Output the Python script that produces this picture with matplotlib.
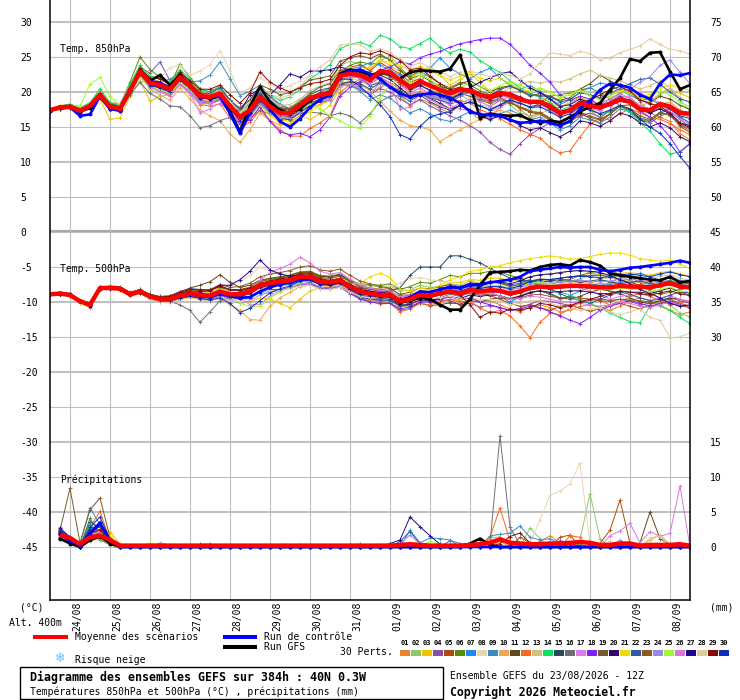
import numpy as np
import matplotlib
matplotlib.use("Agg")
from matplotlib import pyplot as plt
from matplotlib.lines import Line2D
from matplotlib.patches import Rectangle

plt.rcParams['font.family'] = ['DejaVu Sans Mono', 'DejaVu Sans']

W, H = 740, 700

# 6-hourly steps from 23/08 12Z (0..64 -> 384h)
steps = np.arange(65)
days = ["24/08", "25/08", "26/08", "27/08", "28/08", "29/08", "30/08", "31/08",
        "01/09", "02/09", "03/09", "04/09", "05/09", "06/09", "07/09", "08/09"]
day_steps = np.arange(2, 65, 4)

member_colors = ["#e8822e", "#8dc96a", "#f2c200", "#8b4fa8", "#b04a0a", "#5a8a0a",
                 "#1e88f5", "#e8d6b0", "#3a8cc0", "#e8a858", "#5e4a18", "#f86820",
                 "#d2c080", "#10e060", "#264a5e", "#6a7078", "#e078f5", "#8020f5",
                 "#7a5a2a", "#300a6a", "#f0d800", "#2a5ea0", "#8a5a1e", "#9a88e8",
                 "#a0f830", "#d878d8", "#200890", "#e2caa0", "#8a0808", "#0a30b8"]

# ---- Temp 850 hPa (degC) ----
t850_mean = [17.4, 17.8, 17.9, 17.3, 18.0, 19.6, 17.9, 17.6, 20.2, 22.9, 21.3, 21.0, 20.4,
             22.1, 20.9, 19.4, 19.3, 19.8, 18.0, 16.4, 17.4, 19.3, 17.9, 17.0, 17.0, 18.1,
             19.1, 19.6, 19.8, 22.3, 22.6, 22.4, 21.7, 23.0, 22.8, 21.7, 20.7, 21.5, 20.9,
             20.3, 19.8, 20.4, 20.2, 19.6, 19.3, 19.9, 19.6, 18.9, 18.6, 18.6, 18.0, 17.0,
             17.4, 18.4, 18.0, 17.8, 18.3, 18.9, 18.6, 17.5, 17.4, 18.3, 17.9, 17.0, 16.9]
t850_ctrl = [17.4, 17.7, 17.8, 16.6, 16.8, 19.4, 17.6, 17.3, 20.3, 22.7, 21.5, 21.3, 20.6,
             22.0, 20.8, 19.2, 19.2, 19.4, 16.9, 14.1, 17.0, 19.4, 17.5, 15.8, 15.0, 16.2,
             17.8, 18.9, 19.6, 22.4, 23.0, 23.2, 22.6, 21.9, 20.7, 19.8, 19.3, 19.6, 19.8,
             19.6, 19.2, 18.4, 17.2, 16.8, 16.7, 16.6, 16.0, 15.6, 15.7, 15.9, 15.6, 15.2,
             15.8, 17.6, 18.7, 20.3, 21.2, 21.0, 20.6, 19.6, 19.0, 21.2, 22.5, 22.4, 22.7]
t850_gfs = [17.3, 17.9, 18.0, 17.2, 17.7, 19.3, 17.6, 17.4, 20.4, 23.0, 21.6, 22.4, 21.0,
            22.4, 21.0, 19.6, 19.0, 19.4, 17.2, 14.3, 18.0, 20.7, 18.6, 17.4, 17.0, 17.6,
            18.8, 19.6, 20.0, 22.6, 23.2, 23.0, 22.4, 22.8, 22.6, 21.9, 22.8, 23.1, 23.0,
            22.9, 23.3, 25.3, 21.0, 16.3, 16.9, 16.7, 16.6, 16.7, 16.0, 15.6, 15.9, 15.7,
            16.4, 17.2, 17.9, 18.4, 20.3, 22.0, 24.7, 24.4, 25.6, 25.7, 22.9, 20.4, 21.0]
t850_perts = [
    "17.2 17.6 18.0 17.5 18.3 20.1 18.2 17.4 20.6 23.4 21.8 21.5 20.0 22.6 21.3 19.0 18.6 20.4 17.5 15.8 16.9 "
    "18.5 17.0 16.2 16.4 17.0 18.2 18.9 19.0 21.0 21.4 20.6 19.8 20.7 21.2 19.5 18.0 19.0 18.4 17.6 17.0 18.1 17.2 16.0 16.5 17.8 18.9 17.5 16.4 "
    "17.0 16.2 15.1 16.5 18.0 17.4 16.3 17.5 19.8 20.5 18.6 17.0 16.4 15.8 14.0 13.2",
    "17.5 17.9 18.2 17.0 18.4 20.5 18.4 17.8 20.9 23.8 22.0 21.9 21.4 23.0 21.5 20.1 20.0 20.9 18.8 17.2 18.6 "
    "20.4 18.4 17.4 17.7 18.9 20.2 20.8 21.3 23.8 24.4 24.0 23.2 24.5 25.1 23.6 22.0 22.8 21.5 20.2 19.0 19.6 18.8 18.1 17.9 18.8 18.2 17.0 16.6 "
    "16.9 15.8 15.3 16.8 18.6 18.9 18.1 18.0 19.5 19.1 17.9 18.6 19.8 20.5 18.9 17.3",
    "17.3 17.5 17.6 17.1 17.9 19.0 16.1 16.3 19.4 21.6 18.7 19.4 19.6 21.2 19.6 18.2 18.4 19.0 17.2 15.9 17.0 "
    "18.1 16.8 16.0 15.8 16.6 16.1 16.9 18.1 20.5 21.9 23.1 23.5 24.6 23.8 22.9 22.0 23.1 23.6 22.4 21.0 21.8 22.6 21.4 20.1 20.7 20.9 20.3 19.8 "
    "19.5 18.6 17.9 18.5 19.4 18.2 17.6 18.5 19.9 20.2 19.3 18.8 19.6 20.4 19.8 19.2",
    "17.6 18.0 17.9 17.6 18.3 19.9 18.1 18.0 21.0 23.5 22.7 24.3 21.6 22.9 20.4 19.5 20.1 20.6 18.5 17.8 18.9 "
    "20.6 19.3 18.1 17.6 18.6 19.4 19.0 19.2 21.2 20.9 20.4 19.6 20.5 20.0 19.0 18.2 18.9 18.0 17.3 16.6 16.0 15.2 14.3 12.8 11.8 11.1 12.6 13.9 "
    "14.8 15.6 15.1 15.9 16.6 17.0 16.4 17.3 18.0 17.1 16.0 15.6 16.5 17.2 16.1 15.0",
    "17.4 17.9 18.1 17.4 18.1 19.4 18.0 17.7 20.0 22.6 21.0 20.8 20.9 22.4 21.2 20.0 19.6 19.4 17.8 16.0 17.0 "
    "18.9 17.5 16.3 16.0 17.1 18.8 19.5 20.4 22.8 23.5 23.9 23.0 24.2 23.4 22.6 21.4 21.9 21.0 20.0 19.4 20.1 20.6 19.9 19.0 19.6 19.2 18.0 17.1 "
    "16.8 16.0 15.2 15.9 17.0 16.2 15.6 16.9 18.0 17.5 16.3 15.9 17.0 16.8 15.1 14.2",
    "17.5 17.9 18.1 17.7 18.4 20.2 18.3 18.1 21.4 25.0 23.2 22.1 21.0 24.0 22.0 20.5 20.0 20.7 18.4 16.9 18.0 "
    "19.8 18.6 17.6 17.4 18.2 19.0 19.9 20.6 22.9 23.8 24.3 24.0 25.2 24.6 23.2 22.3 23.0 22.1 21.2 20.6 21.4 21.0 20.2 19.6 19.1 18.4 17.9 17.4 "
    "18.5 19.4 19.6 19.9 20.3 20.6 19.9 19.0 18.1 17.2 16.0 15.8 16.9 17.6 16.4 15.6",
    "17.2 17.6 17.7 17.2 17.8 19.5 17.7 17.4 20.1 22.5 21.0 20.6 20.2 21.8 20.6 19.6 19.9 20.6 18.6 17.4 18.3 "
    "20.1 18.8 17.9 17.4 18.0 18.6 19.4 20.2 22.6 23.3 23.6 24.2 23.9 23.1 22.4 21.0 21.2 23.4 24.9 23.4 22.6 21.9 22.8 23.4 22.0 21.0 20.4 20.9 "
    "20.1 19.0 18.2 18.9 20.0 20.6 21.3 21.0 20.2 19.6 18.8 19.0 18.2 17.6 16.4 15.6",
    "17.6 18.1 18.2 17.8 18.5 20.2 18.6 18.4 21.0 23.1 22.3 22.0 23.5 23.8 22.4 23.0 23.9 25.9 23.0 19.8 20.6 "
    "22.1 21.0 20.5 20.9 21.6 22.4 21.5 20.8 23.1 23.5 22.8 21.9 23.0 22.1 21.5 20.2 20.5 19.8 19.0 18.6 19.5 20.1 19.3 18.6 19.1 18.9 18.0 17.6 "
    "17.9 17.1 16.3 16.9 17.8 17.3 16.9 17.5 18.2 18.0 17.2 16.8 17.9 18.4 17.5 16.9",
    "17.3 17.7 17.8 17.4 18.1 19.8 18.4 18.2 20.8 22.8 21.6 21.5 21.8 22.9 21.4 21.6 22.4 24.3 21.9 19.5 20.1 "
    "21.0 19.4 18.3 17.6 18.5 19.0 19.3 19.8 21.6 21.0 20.1 18.9 19.6 19.1 18.0 17.0 17.6 16.9 16.1 15.8 16.5 17.2 16.6 16.0 16.9 17.4 16.8 16.0 "
    "16.4 15.6 14.6 15.2 16.4 16.0 15.6 16.4 17.6 17.2 16.3 15.9 17.1 17.8 16.5 15.3",
    "17.4 17.7 17.8 17.2 17.9 19.5 17.6 17.3 19.8 22.3 20.4 19.6 18.8 20.6 19.0 17.4 16.6 15.9 14.0 12.8 14.6 "
    "17.0 15.9 15.3 15.5 16.7 17.6 18.3 18.7 20.7 21.4 21.0 20.2 18.7 17.3 16.0 15.2 15.0 14.6 12.9 13.8 14.6 15.4 16.1 16.8 17.4 17.0 16.4 16.1 "
    "16.8 17.6 17.9 18.4 19.2 18.8 18.1 18.4 19.0 18.6 17.8 17.4 18.2 18.6 17.4 16.9",
    "17.5 17.8 17.9 17.3 18.0 19.7 18.0 17.6 20.3 23.0 21.5 21.2 20.6 22.3 21.0 19.6 19.3 19.7 17.8 16.2 17.1 "
    "18.9 17.4 16.6 16.5 17.4 18.4 19.0 19.3 21.5 22.2 22.0 21.5 22.6 22.3 21.4 20.6 21.6 21.0 20.8 20.4 21.2 21.6 20.8 20.0 20.6 20.9 20.2 19.4 "
    "19.8 19.4 18.8 19.2 20.4 21.2 22.4 21.6 20.8 19.8 18.8 18.5 19.4 19.0 18.1 17.5",
    "17.3 17.7 17.9 17.5 18.1 19.4 17.8 17.5 20.0 22.4 20.8 20.2 19.5 21.4 20.1 18.2 18.0 18.3 16.3 14.8 15.7 "
    "17.4 15.9 14.6 13.7 13.7 14.8 15.6 16.6 19.9 21.1 21.8 21.2 22.0 21.3 20.5 19.6 20.1 19.4 18.9 18.2 18.8 18.4 17.5 16.9 16.2 15.4 14.6 14.0 "
    "13.4 12.1 11.3 11.6 13.6 15.4 16.3 16.0 16.9 17.6 17.0 16.4 16.1 15.5 14.6 13.9",
    "17.4 17.8 17.9 17.4 18.0 19.7 18.0 17.8 20.4 23.1 21.4 21.1 20.7 22.4 21.2 19.8 19.9 20.6 18.6 17.0 18.1 "
    "20.1 18.9 18.1 18.2 19.0 19.5 19.8 19.6 21.8 22.0 21.6 20.8 21.6 21.0 20.3 19.5 20.2 19.8 19.6 19.2 19.8 20.0 19.6 19.2 19.8 20.6 21.1 21.5 "
    "21.3 21.6 21.4 21.9 22.6 23.1 22.4 22.0 21.6 21.0 20.4 20.9 21.6 20.6 19.2 18.4",
    "17.6 18.0 18.3 17.7 18.5 20.4 18.5 18.2 21.1 23.8 22.3 22.0 21.4 23.2 21.8 20.3 20.1 20.6 18.8 17.3 18.4 "
    "20.5 19.6 18.8 19.3 20.4 21.9 22.8 23.9 26.2 26.8 27.1 26.6 28.1 27.6 26.5 26.2 26.9 27.7 26.4 25.6 26.1 25.7 24.5 23.6 22.8 21.6 20.6 19.8 "
    "19.2 18.5 17.4 17.9 18.6 17.6 16.9 17.2 17.9 17.1 15.6 14.4 12.6 11.1 11.5 12.7",
    "17.3 17.6 17.7 17.1 17.8 19.3 17.7 17.5 20.1 22.7 21.0 20.7 20.1 21.6 20.4 18.8 18.5 19.0 17.1 15.6 16.6 "
    "18.6 17.2 16.2 16.1 17.0 18.1 18.6 18.8 21.1 21.5 21.2 20.4 21.3 20.8 20.2 19.1 19.6 18.6 17.9 17.4 18.1 18.6 18.0 17.4 18.1 18.8 18.4 17.9 "
    "18.2 17.6 16.8 17.4 18.6 18.0 17.5 18.2 19.1 18.6 17.4 17.1 18.1 17.6 16.6 16.2",
    "17.3 17.7 17.8 17.2 17.9 19.3 17.6 17.4 19.6 21.4 19.8 19.0 18.0 17.9 16.6 14.9 15.2 15.9 16.4 15.5 16.2 "
    "17.4 16.8 16.9 16.8 17.0 17.1 17.0 16.6 17.0 16.6 15.6 16.9 18.6 19.4 19.6 19.1 19.8 19.5 19.2 18.8 19.6 20.2 19.8 19.3 19.7 19.5 18.9 18.4 "
    "18.6 18.0 17.1 17.5 18.6 18.2 17.9 18.5 19.2 18.9 17.9 17.6 18.5 18.1 17.3 17.0",
    "17.4 17.8 18.0 17.4 18.1 19.8 18.1 17.9 20.5 22.9 21.1 20.6 19.8 21.5 19.8 17.0 17.6 18.4 17.2 16.0 17.3 "
    "19.2 17.6 16.9 16.9 17.8 19.0 19.4 19.6 21.8 22.2 22.0 21.5 23.2 22.6 21.0 19.8 20.6 19.7 18.9 18.1 17.6 17.3 16.6 17.2 17.8 18.6 19.4 18.7 "
    "18.3 17.4 16.6 17.2 18.2 17.6 17.3 18.2 19.1 19.5 19.8 19.2 18.4 17.2 16.2 15.5",
    "17.5 17.9 18.1 17.6 18.2 19.9 18.0 17.6 20.1 22.6 21.0 20.6 19.9 21.6 20.2 18.6 18.4 18.8 17.0 15.5 16.0 "
    "17.9 15.8 14.3 13.9 14.1 13.6 14.6 16.4 19.4 20.7 21.5 21.9 23.1 23.6 24.3 24.0 24.9 25.4 25.8 26.4 26.9 27.2 27.5 27.7 27.7 26.8 25.4 23.8 "
    "22.7 21.4 19.6 18.8 19.4 19.0 18.1 18.6 19.4 18.6 17.3 16.4 15.2 13.6 11.4 12.6",
    "17.4 17.8 17.9 17.3 18.0 19.6 17.9 17.6 20.2 22.8 21.2 20.9 20.3 22.0 20.8 19.2 19.4 20.3 18.9 17.6 18.9 "
    "21.0 20.4 19.6 19.9 20.8 21.7 22.0 22.3 24.4 24.9 25.2 24.8 25.4 24.6 23.1 21.9 22.4 21.6 20.8 20.0 20.4 19.8 19.0 18.6 19.1 18.6 17.8 17.2 "
    "17.1 16.3 15.4 16.0 17.1 16.6 16.1 16.9 18.0 17.6 16.6 16.1 17.1 16.6 15.4 14.8",
    "17.5 17.8 17.8 17.2 17.9 19.6 17.9 17.7 20.4 23.3 21.6 21.3 20.6 22.4 21.1 19.7 19.6 20.0 18.2 16.6 17.5 "
    "19.4 18.1 17.1 17.2 18.2 19.3 19.8 19.9 22.0 22.6 22.5 21.6 22.4 21.8 20.6 19.4 19.9 19.1 18.4 17.6 18.0 17.5 16.6 16.1 16.6 16.1 15.2 14.6 "
    "14.9 14.2 13.6 14.4 15.9 15.6 15.1 15.9 17.0 16.6 15.6 15.0 15.6 14.9 13.6 12.9",
    "17.3 17.7 17.8 17.3 18.0 19.4 17.6 17.3 19.9 22.5 20.6 20.3 19.8 21.4 20.2 18.7 18.5 19.1 17.4 15.9 16.5 "
    "18.2 16.6 15.6 15.4 16.3 17.2 18.1 18.8 21.4 22.6 23.1 23.6 24.4 24.3 23.8 23.1 23.7 23.0 22.4 21.7 22.3 22.8 22.0 21.6 22.0 21.2 20.4 20.1 "
    "20.5 20.0 19.2 19.7 20.3 19.6 19.1 19.5 20.3 20.0 19.3 19.7 20.6 21.0 20.6 20.3",
    "17.4 17.8 17.9 17.3 18.0 19.6 17.8 17.5 20.0 22.5 21.0 20.8 20.5 22.0 21.0 19.8 19.8 20.6 18.9 17.3 18.3 "
    "19.9 18.4 17.6 17.5 18.5 19.6 20.3 20.6 22.6 22.6 22.0 20.9 21.4 20.8 19.5 18.7 19.6 19.2 18.8 18.4 19.4 20.0 19.7 19.5 20.4 20.8 20.3 19.6 "
    "19.5 19.3 18.6 18.9 19.9 19.6 19.2 19.8 20.5 21.2 21.8 22.0 21.1 20.0 19.0 18.6",
    "17.4 17.8 17.9 17.3 18.0 19.8 18.2 17.9 20.5 23.2 21.6 21.3 20.8 22.5 21.3 19.8 19.6 20.1 18.3 16.7 17.7 "
    "19.6 18.4 17.6 17.7 18.6 19.8 20.7 21.2 23.1 23.3 22.9 22.0 22.8 22.2 21.1 20.2 20.9 20.3 19.7 19.1 19.8 19.4 18.8 18.4 18.9 18.5 17.7 17.2 "
    "17.0 16.2 15.2 15.7 16.8 16.4 16.0 16.8 18.0 18.2 17.4 17.0 17.7 16.8 15.3 14.5",
    "17.4 17.7 17.8 17.2 17.9 19.5 17.7 17.4 19.8 22.2 20.6 20.2 19.7 21.2 20.0 18.6 18.6 19.1 17.2 15.6 16.5 "
    "18.3 17.0 16.3 16.3 17.2 18.3 18.7 18.8 20.9 21.0 20.6 19.8 21.2 20.6 19.9 19.2 19.8 19.5 19.1 18.6 19.4 19.9 19.2 18.7 19.2 19.5 19.0 18.6 "
    "18.8 18.0 17.2 17.6 18.6 18.5 18.4 19.0 19.9 20.4 21.4 22.2 23.8 24.6 22.8 21.2",
    "17.5 17.9 18.2 18.0 21.1 22.1 19.4 18.0 20.0 22.1 20.6 20.3 19.9 21.4 20.4 19.2 19.4 20.1 18.6 17.1 17.8 "
    "19.0 17.5 16.8 16.9 17.6 18.2 17.6 16.6 15.9 15.1 14.8 16.6 19.2 21.1 21.8 21.4 22.4 21.8 20.6 19.6 20.6 21.3 20.8 20.2 20.9 21.5 21.0 20.4 "
    "20.6 20.0 19.2 19.6 20.2 19.5 18.9 19.4 20.1 19.8 19.0 19.4 20.2 19.6 18.5 17.9",
    "17.4 17.8 17.9 17.4 18.1 19.9 18.0 17.7 20.4 22.6 20.7 20.0 19.4 21.0 19.8 18.4 18.3 18.8 17.0 15.8 17.0 "
    "18.8 17.4 16.6 16.8 17.8 18.9 19.4 19.6 21.6 22.2 22.0 21.2 22.2 21.3 17.6 17.8 19.8 18.9 18.1 17.6 18.4 19.0 18.6 18.0 18.8 19.4 18.9 18.3 "
    "18.5 17.9 17.1 17.6 18.8 18.6 18.2 18.9 19.7 19.2 18.1 17.6 18.3 17.8 16.9 16.4",
    "17.3 17.7 17.8 17.3 17.9 19.5 17.8 17.5 20.1 22.7 21.1 20.8 20.3 21.9 20.7 19.3 19.2 19.6 17.8 17.2 19.6 "
    "20.4 19.6 21.0 22.6 22.1 23.0 23.0 23.2 23.6 23.1 22.6 22.0 23.0 22.6 21.6 20.4 21.0 20.2 19.4 18.9 19.7 20.6 21.4 22.0 22.6 22.9 21.7 20.6 "
    "19.9 19.0 17.9 18.2 19.0 18.4 17.9 18.4 19.1 18.6 17.6 17.0 17.6 16.9 15.6 15.2",
    "17.6 18.0 18.1 17.5 18.2 19.8 18.1 17.9 20.6 23.0 21.4 21.2 20.8 22.3 21.1 19.6 19.6 20.2 18.6 17.2 18.4 "
    "20.5 19.7 19.2 19.6 20.8 22.4 23.6 24.6 26.7 26.9 26.8 25.8 26.2 25.7 24.7 23.6 24.2 23.5 22.9 22.2 22.8 23.0 22.6 22.2 22.7 22.4 21.8 22.6 "
    "24.2 25.6 25.4 25.2 25.8 25.5 24.6 24.9 25.6 26.1 26.6 27.6 26.8 26.1 25.9 25.4",
    "17.5 17.9 18.0 17.5 18.1 19.9 18.2 17.9 20.6 23.4 22.0 21.9 21.0 22.8 21.6 20.4 20.4 21.0 19.6 18.4 19.9 "
    "22.9 21.4 20.6 20.0 20.6 21.2 21.4 21.8 23.8 25.0 25.6 25.4 25.9 25.3 24.5 23.2 23.4 22.3 21.2 20.3 20.7 20.1 19.4 18.9 19.5 19.9 19.3 18.6 "
    "18.4 17.6 16.7 17.3 18.6 18.8 19.6 20.3 20.8 20.1 18.9 18.3 18.0 17.0 15.6 14.9",
    "17.3 17.6 17.7 17.1 17.8 19.4 17.6 17.3 19.9 22.6 20.9 20.6 20.0 21.7 20.6 19.1 19.0 19.6 17.6 15.9 17.0 "
    "18.8 17.6 16.8 16.7 17.6 18.7 19.4 19.6 21.9 21.8 20.8 19.5 18.2 16.5 13.9 13.3 15.1 16.4 16.9 17.2 18.1 18.6 18.0 17.5 18.2 18.9 18.4 17.8 "
    "17.9 17.2 16.4 16.9 17.9 17.4 16.9 17.4 18.1 17.6 16.1 15.0 14.1 12.6 10.8 9.1",
]

# ---- Temp 500 hPa (degC) ----
t500_mean = [-8.9, -8.8, -9.0, -9.9, -10.4, -8.0, -8.0, -8.1, -8.9, -8.5, -9.2, -9.6, -9.6,
             -9.1, -8.8, -9.0, -9.1, -8.5, -8.9, -8.9, -8.5, -7.6, -7.3, -7.1, -6.9, -6.4,
             -6.4, -7.1, -7.2, -6.9, -7.8, -8.5, -8.8, -9.0, -9.0, -9.9, -9.6, -9.0, -9.1,
             -8.8, -8.5, -8.8, -8.3, -8.5, -8.3, -8.4, -8.8, -8.5, -8.0, -7.8, -7.9, -7.8,
             -7.7, -7.7, -7.8, -7.9, -7.9, -7.7, -7.8, -7.8, -7.9, -7.6, -7.3, -7.8, -7.9]
t500_ctrl = [-8.9, -8.7, -8.9, -9.9, -10.5, -8.1, -8.0, -8.1, -8.9, -8.6, -9.2, -9.6, -9.6,
             -9.1, -8.8, -9.1, -9.3, -8.8, -9.2, -9.4, -9.3, -8.5, -7.9, -7.5, -7.2, -6.8,
             -6.7, -7.3, -7.3, -7.0, -7.6, -8.4, -8.6, -8.8, -9.0, -9.8, -9.4, -8.5, -8.6,
             -8.2, -7.9, -8.0, -7.6, -7.6, -7.2, -7.0, -6.8, -6.4, -5.6, -5.4, -5.2, -5.0,
             -5.1, -5.0, -5.0, -5.4, -5.6, -5.4, -5.1, -5.0, -4.8, -4.6, -4.4, -4.1, -4.4]
t500_gfs = [-8.9, -8.8, -9.0, -9.8, -10.3, -8.0, -8.0, -8.1, -8.9, -8.5, -9.2, -9.6, -9.6,
            -9.2, -8.9, -9.1, -9.2, -8.6, -9.0, -9.0, -8.6, -7.7, -7.4, -7.2, -7.0, -6.6,
            -6.6, -7.3, -7.4, -7.1, -7.9, -8.6, -8.9, -9.1, -9.2, -10.1, -9.8, -9.4, -9.6,
            -10.4, -11.1, -11.1, -9.6, -7.6, -5.8, -5.7, -5.6, -5.4, -5.5, -5.0, -4.7, -4.6,
            -4.8, -4.0, -4.3, -4.8, -5.9, -6.2, -6.4, -6.6, -6.8, -6.9, -6.4, -7.2, -7.0]
t500_perts = [
    "-8.8 -8.7 -9.1 -10.1 -10.8 -8.2 -7.9 -8.3 -9.2 -8.8 -9.6 -10.0 -9.9 -9.3 -9.0 -9.4 -9.6 -9.1 -9.4 -9.2 -8.7 "
    "-7.9 -7.6 -7.3 -7.0 -6.6 -6.8 -7.6 -7.8 -7.7 -8.6 -9.5 -9.9 -10.3 -10.2 -10.8 -10.4 -9.8 -10.1 -10.0 -9.6 -9.8 -9.4 -9.9 -9.8 -10.4 -11.0 -11.4 -10.8 "
    "-10.4 -10.8 -11.4 -11.2 -10.6 -10.4 -10.8 -11.2 -10.6 -9.8 -9.4 -9.8 -10.6 -11.2 -11.8 -11.4",
    "-8.9 -8.8 -8.9 -9.7 -10.2 -7.8 -7.9 -8.0 -8.7 -8.2 -9.0 -9.4 -9.3 -8.7 -8.3 -8.5 -8.7 -8.0 -8.6 -8.6 -8.1 "
    "-7.0 -6.6 -6.4 -6.1 -5.7 -5.8 -6.6 -6.7 -6.3 -7.1 -7.6 -7.7 -7.8 -7.7 -8.4 -8.3 -7.6 -7.9 -7.8 -7.4 -7.6 -7.0 -7.3 -7.0 -7.3 -7.8 -7.5 -7.0 "
    "-6.8 -7.0 -7.1 -7.0 -6.7 -6.2 -6.0 -6.4 -6.3 -6.9 -7.8 -8.4 -9.6 -10.4 -11.6 -12.2",
    "-9.0 -8.9 -9.1 -10.0 -10.5 -8.2 -8.2 -8.3 -9.0 -8.6 -9.3 -9.8 -9.9 -9.6 -9.4 -9.5 -9.6 -9.3 -9.8 -10.1 -10.0 "
    "-9.4 -9.6 -10.2 -10.8 -9.6 -8.4 -8.0 -7.8 -7.4 -8.0 -8.6 -8.9 -9.1 -8.9 -9.7 -9.3 -8.4 -8.2 -7.8 -7.3 -7.2 -6.8 -6.9 -6.6 -6.6 -7.0 -6.8 -6.4 "
    "-6.1 -6.0 -5.8 -5.6 -5.5 -5.8 -6.1 -6.2 -5.9 -5.8 -6.0 -6.2 -5.8 -5.6 -6.0 -6.3",
    "-8.9 -8.8 -9.0 -9.9 -10.4 -8.1 -8.0 -8.1 -8.9 -8.5 -9.2 -9.6 -9.7 -9.3 -9.1 -9.3 -9.5 -9.0 -9.3 -9.3 -8.8 "
    "-8.0 -7.6 -7.3 -7.1 -6.6 -6.5 -7.0 -7.0 -6.6 -7.4 -8.0 -8.2 -8.4 -8.5 -9.6 -9.5 -9.2 -9.6 -9.7 -9.8 -10.4 -10.2 -10.7 -10.5 -10.8 -11.2 -10.9 -10.3 "
    "-9.8 -9.9 -10.2 -10.5 -10.2 -9.7 -9.5 -9.8 -9.6 -9.9 -10.4 -10.2 -9.8 -9.4 -9.8 -10.2",
    "-8.9 -8.7 -8.9 -9.8 -10.2 -7.9 -7.8 -7.9 -8.7 -8.3 -9.0 -9.5 -9.4 -8.9 -8.5 -8.6 -8.6 -7.9 -8.3 -8.2 -7.9 "
    "-7.0 -6.8 -6.6 -6.3 -5.9 -5.8 -6.4 -6.4 -6.1 -7.0 -7.8 -8.2 -8.5 -8.6 -9.4 -9.0 -8.4 -8.6 -8.4 -8.1 -8.6 -8.4 -8.9 -9.1 -9.6 -10.2 -10.6 -10.4 "
    "-10.8 -11.2 -10.6 -10.4 -10.9 -11.3 -11.0 -10.4 -10.2 -10.6 -11.0 -10.4 -9.8 -9.6 -10.2 -10.6",
    "-8.8 -8.7 -8.9 -9.8 -10.3 -7.9 -7.8 -8.0 -8.8 -8.3 -9.0 -9.3 -9.3 -8.8 -8.4 -8.6 -8.5 -7.9 -8.2 -8.3 -8.0 "
    "-7.1 -6.8 -6.5 -6.2 -5.7 -5.6 -6.2 -6.3 -6.0 -6.9 -7.4 -7.5 -7.6 -7.4 -8.2 -7.8 -7.2 -7.3 -6.8 -6.2 -6.4 -5.9 -5.9 -5.6 -5.7 -6.2 -6.6 -7.2 "
    "-7.8 -7.6 -6.9 -6.8 -6.2 -5.8 -5.5 -5.6 -6.0 -6.4 -7.2 -8.4 -8.9 -8.6 -8.2 -8.0",
    "-8.9 -8.8 -9.0 -9.9 -10.3 -8.0 -8.0 -8.1 -8.9 -8.6 -9.4 -9.8 -9.8 -9.4 -9.0 -9.2 -9.4 -8.8 -9.4 -9.6 -9.4 "
    "-8.6 -8.5 -8.3 -8.0 -7.2 -6.9 -7.4 -7.4 -7.1 -7.9 -8.4 -8.5 -8.6 -8.4 -9.3 -9.1 -8.5 -8.6 -8.4 -8.0 -8.4 -8.1 -8.4 -8.6 -9.2 -10.0 -9.3 -8.6 "
    "-8.4 -8.9 -9.6 -9.1 -8.4 -8.0 -7.6 -7.2 -6.6 -6.2 -5.9 -6.4 -6.9 -7.3 -7.8 -8.2",
    "-8.9 -8.8 -9.0 -9.9 -10.4 -8.2 -8.2 -8.2 -8.9 -8.4 -9.1 -9.4 -9.4 -8.9 -8.5 -8.6 -8.6 -7.8 -7.6 -7.0 -6.2 "
    "-5.0 -5.6 -6.0 -6.2 -6.0 -6.1 -6.8 -7.0 -6.7 -7.4 -7.8 -7.9 -8.1 -7.7 -7.3 -6.6 -6.5 -6.8 -7.0 -7.2 -7.9 -7.8 -8.1 -7.6 -7.6 -8.1 -7.8 -7.2 "
    "-7.0 -7.1 -7.2 -7.3 -7.5 -7.6 -8.0 -8.2 -7.8 -7.5 -7.7 -8.0 -7.8 -7.4 -7.8 -8.1",
    "-8.9 -8.7 -8.9 -9.8 -10.3 -7.9 -7.9 -8.0 -8.8 -8.4 -9.1 -9.5 -9.5 -9.0 -8.7 -8.9 -9.0 -8.4 -8.8 -8.8 -8.4 "
    "-7.6 -7.3 -7.2 -7.0 -6.6 -6.7 -7.4 -7.6 -7.4 -8.2 -9.2 -9.6 -9.9 -10.1 -11.2 -10.9 -10.0 -9.8 -9.4 -8.9 -9.2 -8.7 -8.9 -8.6 -8.6 -9.0 -8.7 -8.2 "
    "-7.9 -8.0 -7.8 -7.6 -7.5 -7.4 -7.6 -7.5 -7.2 -7.0 -7.2 -7.5 -7.1 -6.9 -7.4 -7.7",
    "-8.9 -8.8 -9.0 -9.9 -10.4 -8.0 -8.1 -8.2 -9.0 -8.6 -9.3 -9.8 -9.9 -9.5 -9.2 -9.5 -9.8 -9.5 -10.4 -11.2 -12.5 "
    "-12.6 -10.6 -9.4 -8.6 -7.8 -7.6 -7.9 -7.8 -7.4 -8.2 -9.0 -9.4 -9.7 -9.8 -10.6 -10.2 -9.4 -9.4 -9.0 -8.6 -8.8 -8.3 -8.6 -8.4 -8.4 -8.8 -8.4 -7.8 "
    "-7.5 -7.6 -7.4 -7.2 -7.1 -7.2 -7.4 -7.3 -7.0 -7.0 -7.2 -7.3 -6.9 -6.6 -7.1 -7.4",
    "-8.8 -8.7 -8.9 -9.8 -10.3 -7.9 -7.7 -7.8 -8.6 -8.2 -8.9 -9.3 -9.2 -8.6 -8.0 -7.6 -7.1 -6.1 -7.2 -7.9 -7.6 "
    "-6.9 -6.6 -6.4 -6.2 -5.8 -5.7 -6.3 -6.4 -6.1 -7.0 -7.9 -8.5 -8.9 -9.2 -10.4 -10.6 -10.2 -10.5 -10.4 -10.1 -10.3 -9.8 -10.0 -9.6 -9.4 -9.6 -9.1 -8.6 "
    "-8.4 -8.8 -9.4 -9.6 -9.2 -8.6 -8.2 -8.4 -8.8 -9.4 -10.0 -10.2 -9.8 -9.4 -9.6 -10.0",
    "-8.9 -8.8 -9.0 -9.9 -10.4 -8.1 -8.1 -8.2 -9.0 -8.6 -9.2 -9.5 -9.4 -8.9 -8.6 -8.8 -9.0 -8.5 -8.9 -8.9 -8.6 "
    "-7.9 -7.6 -7.4 -7.2 -6.8 -6.8 -7.4 -7.6 -7.4 -8.4 -9.4 -9.8 -10.0 -10.2 -11.4 -11.0 -10.2 -10.4 -10.0 -9.6 -10.0 -9.8 -10.9 -11.5 -11.2 -12.0 -13.4 -15.1 "
    "-12.9 -11.6 -11.8 -10.9 -10.0 -9.6 -9.8 -10.4 -10.0 -9.2 -8.8 -9.2 -9.8 -10.4 -10.2 -9.8",
    "-8.9 -8.8 -9.0 -9.9 -10.4 -8.0 -8.0 -8.1 -8.9 -8.5 -9.1 -9.5 -9.5 -9.0 -8.7 -8.9 -9.0 -8.4 -8.8 -8.8 -8.4 "
    "-7.5 -7.2 -7.0 -6.8 -6.3 -6.3 -7.0 -7.1 -6.8 -7.6 -8.3 -8.6 -8.7 -8.6 -9.4 -9.1 -8.5 -8.6 -8.4 -8.0 -8.2 -7.7 -7.9 -7.6 -7.7 -8.1 -7.7 -7.1 "
    "-6.8 -6.8 -6.6 -6.4 -6.3 -6.4 -6.6 -6.6 -6.3 -6.2 -6.5 -6.7 -6.3 -6.1 -6.6 -6.9",
    "-8.9 -8.8 -9.0 -9.9 -10.3 -8.0 -8.0 -8.1 -8.9 -8.5 -9.2 -9.6 -9.6 -9.1 -8.8 -9.0 -9.1 -8.5 -8.9 -8.9 -8.5 "
    "-7.7 -7.4 -7.2 -7.0 -6.5 -6.5 -7.2 -7.3 -7.0 -7.9 -8.6 -8.9 -9.1 -9.1 -10.0 -9.7 -9.1 -9.2 -8.9 -8.6 -8.9 -8.4 -8.6 -8.4 -8.5 -8.9 -8.6 -8.1 "
    "-7.9 -8.2 -8.6 -9.0 -9.6 -10.2 -10.8 -11.6 -12.2 -12.8 -13.0 -10.6 -10.4 -11.2 -12.2 -13.1",
    "-8.9 -8.8 -9.0 -9.9 -10.4 -8.0 -8.0 -8.1 -8.9 -8.3 -8.9 -9.2 -9.1 -8.5 -8.1 -8.2 -8.3 -7.8 -8.3 -8.4 -8.1 "
    "-7.6 -7.3 -7.1 -6.9 -6.4 -6.4 -7.1 -7.2 -6.9 -7.8 -8.5 -8.6 -8.8 -8.4 -8.0 -6.2 -5.0 -5.0 -5.0 -3.4 -3.4 -3.9 -4.4 -5.2 -5.9 -6.6 -6.9 -7.0 "
    "-7.2 -7.0 -6.8 -6.9 -7.2 -7.0 -6.8 -7.1 -7.4 -7.2 -7.0 -7.3 -7.7 -7.5 -7.2 -7.4",
    "-8.9 -8.8 -9.0 -9.9 -10.4 -8.1 -8.1 -8.2 -9.0 -8.6 -9.3 -9.8 -9.9 -10.4 -11.2 -12.9 -11.4 -9.8 -9.4 -9.2 -8.8 "
    "-8.0 -7.7 -7.4 -7.1 -6.6 -6.6 -7.3 -7.4 -7.2 -8.0 -8.7 -9.0 -9.2 -9.2 -10.1 -9.8 -9.2 -9.3 -9.0 -8.7 -9.0 -8.5 -8.7 -8.5 -8.6 -9.0 -8.7 -8.2 "
    "-8.0 -8.1 -8.0 -7.9 -7.9 -8.0 -8.1 -8.1 -7.9 -8.0 -8.0 -8.1 -7.8 -7.5 -8.0 -8.1",
    "-8.9 -8.8 -9.0 -9.9 -10.4 -8.0 -8.0 -8.1 -8.9 -8.5 -9.2 -9.6 -9.6 -9.1 -8.8 -9.0 -9.1 -8.5 -8.9 -9.4 -10.4 "
    "-10.3 -9.2 -8.4 -7.8 -7.0 -6.8 -7.3 -7.3 -7.0 -7.9 -8.6 -8.9 -9.0 -8.9 -9.8 -9.4 -8.7 -8.7 -8.4 -8.0 -8.2 -7.8 -8.0 -7.8 -7.9 -8.3 -8.0 -7.5 "
    "-7.3 -7.5 -7.6 -7.7 -8.0 -8.4 -9.0 -9.6 -9.2 -9.0 -9.4 -9.8 -9.4 -9.1 -9.6 -9.9",
    "-8.9 -8.8 -9.0 -9.9 -10.4 -8.0 -8.0 -8.1 -8.9 -8.5 -9.3 -9.7 -9.7 -9.3 -9.1 -9.4 -9.6 -9.1 -9.4 -9.5 -9.2 "
    "-8.4 -8.2 -8.2 -8.0 -7.5 -7.4 -8.0 -8.1 -7.9 -8.8 -9.6 -10.0 -10.2 -10.2 -11.0 -10.7 -10.0 -10.0 -9.6 -9.3 -9.6 -9.4 -10.0 -10.4 -10.8 -11.2 -11.0 -10.6 "
    "-10.8 -11.4 -12.0 -12.6 -13.1 -12.2 -11.2 -10.6 -10.2 -9.8 -10.2 -10.6 -10.2 -9.8 -10.4 -10.8",
    "-8.9 -8.8 -9.0 -9.8 -10.3 -7.9 -7.9 -8.0 -8.8 -8.4 -9.1 -9.4 -9.4 -8.9 -8.6 -8.8 -8.9 -8.3 -8.7 -8.7 -8.2 "
    "-7.3 -7.0 -6.7 -6.5 -6.0 -5.9 -6.5 -6.6 -6.3 -7.1 -7.7 -8.0 -8.2 -8.1 -8.9 -8.6 -8.0 -8.1 -7.8 -7.5 -7.8 -7.3 -7.4 -7.2 -7.3 -7.8 -7.5 -7.0 "
    "-6.7 -6.8 -6.6 -6.4 -6.2 -6.2 -6.2 -6.4 -6.8 -7.2 -7.6 -8.0 -7.4 -7.0 -7.5 -7.9",
    "-8.9 -8.8 -9.0 -9.9 -10.4 -8.0 -8.0 -8.1 -8.9 -8.7 -9.4 -9.9 -9.9 -9.5 -9.2 -9.3 -9.3 -8.7 -9.1 -9.0 -8.6 "
    "-7.6 -7.3 -7.1 -6.9 -6.4 -6.4 -7.1 -7.3 -7.2 -8.2 -9.0 -9.3 -9.5 -9.6 -10.5 -10.3 -9.7 -9.8 -9.5 -9.2 -9.5 -9.0 -9.2 -9.0 -9.1 -9.5 -9.2 -8.7 "
    "-8.4 -8.6 -8.5 -8.4 -8.4 -8.6 -8.8 -8.8 -8.5 -8.6 -8.6 -8.8 -8.4 -8.0 -8.5 -8.7",
    "-8.9 -8.8 -9.0 -9.9 -10.4 -8.0 -8.0 -8.1 -8.9 -8.4 -9.0 -9.3 -9.2 -8.6 -8.3 -8.5 -8.6 -8.1 -8.6 -8.7 -8.4 "
    "-7.6 -7.3 -7.1 -6.9 -6.4 -6.4 -7.1 -7.2 -6.9 -7.4 -7.4 -6.4 -5.9 -6.5 -8.2 -8.4 -8.0 -8.2 -7.6 -6.8 -6.4 -5.6 -5.4 -5.0 -4.8 -4.4 -4.1 -3.8 "
    "-3.6 -3.4 -3.6 -3.9 -3.8 -3.5 -3.2 -3.0 -3.0 -3.3 -3.8 -4.0 -4.2 -4.0 -4.6 -5.2",
    "-8.9 -8.8 -9.0 -9.9 -10.4 -8.0 -8.0 -8.1 -8.9 -8.6 -9.3 -9.7 -9.8 -9.4 -9.1 -9.4 -9.5 -8.8 -9.1 -9.0 -8.4 "
    "-7.9 -7.6 -7.6 -7.5 -7.0 -7.2 -7.9 -8.0 -7.8 -8.6 -9.4 -9.6 -9.7 -9.8 -10.6 -10.1 -9.2 -9.0 -8.4 -7.9 -8.0 -7.4 -7.5 -7.2 -7.2 -7.6 -7.3 -6.8 "
    "-7.8 -8.2 -8.8 -9.4 -9.8 -10.2 -9.6 -9.0 -8.6 -8.9 -9.4 -9.8 -9.6 -9.0 -8.6 -9.0",
    "-8.9 -8.8 -9.0 -9.9 -10.4 -8.0 -8.0 -8.1 -8.9 -8.4 -9.0 -9.3 -9.2 -8.6 -8.2 -8.3 -8.2 -7.5 -7.9 -7.8 -7.3 "
    "-6.4 -6.0 -5.8 -5.5 -5.0 -4.8 -5.4 -5.6 -5.3 -6.2 -7.0 -7.4 -7.8 -8.0 -9.0 -9.0 -8.6 -8.9 -8.8 -8.6 -9.0 -8.7 -9.0 -8.9 -9.1 -9.6 -9.4 -9.0 "
    "-8.9 -9.2 -9.4 -9.3 -9.4 -9.6 -9.8 -9.9 -9.6 -9.7 -9.8 -10.0 -10.2 -10.0 -10.5 -10.8",
    "-8.9 -8.8 -9.0 -9.9 -10.3 -8.0 -8.1 -8.2 -9.0 -8.6 -9.4 -9.8 -9.9 -9.5 -9.2 -9.4 -9.6 -9.1 -9.6 -10.2 -9.8 "
    "-9.0 -8.6 -8.3 -8.0 -7.4 -7.3 -7.9 -8.0 -7.7 -8.5 -9.1 -9.3 -9.4 -9.3 -10.1 -9.7 -9.0 -9.0 -8.6 -8.2 -8.4 -7.9 -8.0 -7.8 -7.8 -8.2 -7.9 -7.4 "
    "-7.2 -7.3 -7.2 -7.0 -6.9 -7.0 -7.1 -7.0 -6.7 -6.8 -6.9 -7.1 -6.8 -6.4 -6.9 -7.1",
    "-8.9 -8.8 -9.0 -9.9 -10.4 -7.9 -7.9 -8.0 -8.8 -8.4 -9.1 -9.5 -9.5 -9.0 -8.7 -8.9 -9.0 -8.5 -9.3 -10.1 -10.7 "
    "-10.6 -9.4 -8.6 -8.0 -7.2 -6.9 -7.3 -7.3 -6.9 -7.7 -8.3 -8.6 -8.8 -8.7 -9.5 -9.2 -8.6 -8.6 -8.3 -7.9 -8.1 -7.6 -7.8 -7.6 -7.7 -8.1 -7.8 -7.3 "
    "-7.2 -7.4 -7.5 -7.6 -7.8 -8.0 -8.2 -8.2 -8.0 -8.1 -8.3 -8.5 -8.2 -7.9 -8.4 -8.6",
    "-8.9 -8.8 -9.0 -9.9 -10.4 -8.0 -8.0 -8.1 -8.9 -8.5 -9.2 -9.6 -9.6 -9.1 -8.8 -9.0 -9.1 -8.5 -8.9 -8.8 -8.2 "
    "-6.9 -5.8 -5.2 -4.6 -3.6 -4.4 -5.6 -6.0 -5.8 -6.7 -7.6 -8.0 -8.3 -8.4 -9.3 -9.1 -8.6 -8.8 -8.6 -8.4 -8.8 -8.5 -8.8 -8.8 -9.1 -9.6 -9.5 -9.2 "
    "-9.3 -9.6 -9.9 -10.0 -10.2 -10.4 -10.6 -10.4 -10.0 -10.2 -10.6 -10.8 -10.4 -10.0 -10.4 -10.6",
    "-8.9 -8.8 -9.0 -9.9 -10.4 -8.0 -8.0 -8.1 -8.9 -8.4 -9.1 -9.4 -9.4 -8.8 -8.4 -8.5 -8.4 -7.6 -7.6 -6.8 -5.6 "
    "-4.0 -5.4 -6.0 -6.3 -6.1 -6.3 -7.0 -7.1 -6.8 -7.7 -8.4 -8.7 -8.9 -8.8 -9.6 -9.2 -8.5 -8.5 -8.1 -7.7 -7.9 -7.3 -7.4 -7.1 -7.1 -7.4 -7.0 -6.4 "
    "-6.1 -6.0 -5.8 -5.6 -5.5 -5.6 -5.8 -6.2 -6.8 -7.4 -8.2 -8.8 -9.4 -10.2 -10.6 -10.4",
    "-8.9 -8.8 -9.0 -9.9 -10.4 -8.0 -8.0 -8.1 -8.9 -8.7 -9.5 -10.0 -10.1 -9.7 -9.4 -9.7 -9.9 -9.4 -9.9 -9.9 -9.5 "
    "-8.6 -8.4 -8.3 -8.1 -7.7 -7.6 -8.2 -8.2 -7.9 -8.6 -9.2 -9.4 -9.0 -9.1 -10.0 -9.8 -9.3 -9.5 -9.4 -9.2 -9.6 -9.3 -9.7 -9.6 -9.9 -10.4 -10.2 -9.8 "
    "-9.8 -10.2 -10.6 -10.9 -11.2 -11.0 -10.8 -11.4 -11.8 -11.4 -11.0 -12.2 -12.6 -15.1 -15.0 -14.4",
    "-8.9 -8.8 -9.0 -9.9 -10.4 -8.0 -8.0 -8.1 -8.9 -8.4 -9.0 -9.3 -9.2 -8.6 -8.2 -8.3 -8.3 -7.7 -8.2 -8.3 -8.0 "
    "-7.4 -7.0 -6.7 -6.5 -6.0 -6.0 -6.7 -6.9 -6.6 -7.5 -8.2 -8.5 -8.7 -8.7 -9.6 -9.4 -8.8 -9.0 -8.8 -8.6 -9.0 -10.4 -12.2 -11.4 -11.6 -11.0 -11.2 -10.8 "
    "-10.2 -10.4 -10.8 -10.5 -10.0 -9.6 -9.2 -8.8 -8.4 -8.6 -8.8 -9.0 -8.7 -8.4 -8.8 -9.1",
    "-8.9 -8.8 -9.0 -9.9 -10.4 -8.0 -8.0 -8.1 -8.9 -8.6 -9.3 -9.7 -9.8 -9.4 -9.2 -9.5 -9.7 -9.4 -10.2 -11.5 -10.9 "
    "-9.8 -8.7 -8.1 -7.7 -7.0 -6.9 -7.5 -7.6 -7.3 -8.1 -8.8 -9.1 -9.3 -9.2 -10.0 -9.7 -9.0 -9.0 -8.7 -8.3 -8.5 -8.0 -8.1 -7.8 -7.8 -8.1 -7.7 -7.1 "
    "-6.8 -6.8 -6.6 -6.4 -6.3 -6.4 -6.5 -6.4 -6.1 -6.0 -6.2 -6.4 -6.0 -5.7 -6.1 -6.4",
]

# ---- 6h precipitation (mm), steps 1..64 ----
precip_mean = [1.7, 1.3, 0.4, 1.4, 1.6, 1.0, 0.2,
               0.2, 0.2, 0.2, 0.2, 0.2, 0.2, 0.2, 0.2, 0.2, 0.2, 0.2, 0.2, 0.2,
               0.2, 0.2, 0.2, 0.2, 0.2, 0.2, 0.2, 0.2, 0.2, 0.2, 0.2, 0.2,
               0.2, 0.2, 0.3, 0.4, 0.3, 0.2, 0.2, 0.2, 0.2, 0.3, 0.4, 0.6, 1.1, 0.6, 0.5, 0.4,
               0.4, 0.5, 0.5, 0.6, 0.7, 0.6, 0.3, 0.3, 0.5, 0.5, 0.2, 0.3, 0.3, 0.3, 0.4, 0.2]
precip_ctrl = {1: 1.8, 2: 0.9, 3: 0.2, 4: 1.9, 5: 3.4, 6: 1.0}
precip_gfs = {1: 1.2, 2: 0.5, 4: 1.0, 5: 1.5, 6: 0.5, 42: 0.5, 43: 1.2, 44: 0.3}
precip_perts = [
    {1: 2.2, 2: 1.0, 4: 1.4, 5: 2.0, 6: 0.6, 49: 0.8, 50: 1.6, 51: 0.6},
    {1: 2.5, 2: 1.4, 3: 0.3, 4: 2.0, 5: 1.2, 6: 0.4, 48: 2.7, 49: 1.2, 53: 1.0, 54: 7.6, 55: 1.2},
    {1: 1.6, 2: 1.0, 4: 1.2, 5: 2.6, 6: 2.2, 7: 0.4, 10: 0.5, 11: 0.3, 45: 0.8},
    {1: 2.0, 2: 0.8, 4: 1.6, 5: 1.0, 6: 0.3, 40: 0.9, 41: 0.5},
    {1: 1.8, 2: 1.2, 4: 3.0, 5: 2.2, 6: 0.5, 51: 1.4, 52: 1.7, 55: 0.5, 56: 2.4, 57: 6.7, 58: 0.5},
    {1: 2.4, 2: 1.0, 4: 4.1, 5: 1.8, 6: 0.4, 23: 0.3},
    {1: 1.4, 2: 0.6, 4: 2.2, 5: 3.0, 6: 0.8, 43: 0.6, 44: 0.4},
    {1: 1.2, 2: 0.5, 4: 0.8, 5: 1.4, 6: 0.3, 25: 0.4, 48: 0.5, 49: 3.9, 50: 7.4, 51: 8.0,
     52: 9.0, 53: 12.0, 54: 0.5},
    {1: 2.6, 2: 1.5, 3: 0.4, 4: 5.6, 5: 3.2, 6: 0.8, 36: 2.4, 37: 0.6, 38: 1.3, 39: 1.2,
     40: 1.0, 44: 1.6, 45: 1.8, 46: 2.0, 47: 3.0, 48: 1.4, 49: 1.0, 50: 1.2, 51: 0.4},
    {1: 1.9, 2: 1.1, 3: 0.2, 4: 1.0, 5: 2.4, 6: 0.6, 44: 1.2, 45: 1.5, 60: 1.0, 61: 1.7, 62: 0.4},
    {1: 2.1, 2: 0.9, 4: 2.6, 5: 1.6, 6: 0.4, 59: 0.6, 60: 5.0, 61: 1.2, 62: 0.3},
    {1: 1.7, 2: 0.8, 4: 2.8, 5: 5.1, 6: 0.9, 44: 1.4, 45: 5.6, 46: 0.8, 52: 1.6, 53: 1.4},
    {1: 1.5, 2: 0.9, 4: 1.8, 5: 2.2, 6: 0.6},
    {1: 2.8, 2: 1.2, 4: 3.2, 5: 1.6, 6: 0.5, 53: 0.4},
    {1: 2.3, 2: 1.0, 4: 2.4, 5: 3.4, 6: 0.8},
    {1: 1.3, 2: 0.7, 4: 1.2, 5: 1.8, 6: 0.4, 30: 0.3, 31: 0.4, 44: 0.5, 45: 15.9, 46: 2.8, 47: 0.4},
    {1: 1.6, 2: 0.6, 4: 1.0, 5: 1.4, 6: 0.3, 11: 0.6, 12: 0.3},
    {1: 2.0, 2: 1.3, 4: 1.4, 5: 2.0, 6: 0.5, 33: 0.3, 51: 0.9, 52: 0.6},
    {1: 2.4, 2: 8.4, 3: 0.6, 4: 5.3, 5: 7.0, 6: 1.4, 15: 0.4, 16: 0.4},
    {1: 1.8, 2: 0.9, 4: 2.1, 5: 2.9, 6: 0.7},
    {1: 1.4, 2: 0.7, 4: 1.3, 5: 1.9, 6: 1.6, 10: 0.6},
    {1: 2.2, 2: 1.1, 4: 3.6, 5: 2.8, 6: 0.6, 35: 0.8, 36: 2.2, 37: 0.5},
    {1: 2.6, 2: 1.4, 4: 2.0, 5: 2.4, 6: 0.6, 47: 1.4, 48: 0.6},
    {1: 1.5, 2: 0.7, 4: 1.1, 5: 1.6, 6: 0.4, 35: 0.5, 36: 1.7, 37: 0.4, 57: 1.0},
    {1: 1.2, 2: 0.6, 4: 0.9, 5: 1.2, 6: 0.3, 38: 0.8, 39: 0.4},
    {1: 1.9, 2: 0.8, 4: 1.6, 5: 2.2, 6: 0.5, 11: 0.5, 56: 1.6, 57: 2.3, 58: 3.4, 59: 0.6,
     60: 2.2, 61: 1.5, 62: 2.0, 63: 8.7},
    {1: 2.7, 2: 1.3, 4: 2.2, 5: 3.6, 6: 1.0, 34: 0.5, 35: 1.0, 36: 4.3, 37: 2.9, 38: 1.6, 39: 0.4},
    {1: 1.4, 2: 0.6, 4: 1.0, 5: 1.5, 6: 0.3, 56: 0.8, 60: 1.3, 61: 1.6},
    {1: 2.1, 2: 0.9, 4: 1.9, 5: 2.5, 6: 0.6, 45: 0.5, 46: 1.5, 47: 2.0, 48: 0.6},
    {1: 2.3, 2: 1.2, 4: 2.8, 5: 4.3, 6: 1.1},
]

left_ticks = list(range(30, -50, -5))
right_pos = [30, 25, 20, 15, 10, 5, 0, -5, -10, -15, -30, -35, -40, -45]
right_lab = ["75", "70", "65", "60", "55", "50", "45", "40", "35", "30", "15", "10", "5", "0"]
PR0 = -45  # precipitation zero on the left scale


def rows(strings):
    out = [np.array(s.split(), dtype=float) for s in strings]
    bad = [k for k, r in enumerate(out) if len(r) != 65]
    if bad:
        raise SystemExit("bad rows %s %s" % (bad, [len(out[k]) for k in bad]))
    return out


def precip_series(d):
    pr = np.zeros(64)
    for s, v in d.items():
        pr[s - 1] = v
    return pr + PR0


def fpx(x, y):
    return x / W, 1 - y / H


t850 = rows(t850_perts)
t500 = rows(t500_perts)

fig = plt.figure(figsize=(W / 100, H / 100), dpi=100)
ax = fig.add_axes([50 / W, 100 / H, 640 / W, 600 / H])
ax.set_xlim(0, 64)
ax.set_ylim((232 - 600) / 7, 232 / 7)

# grid
for v in left_ticks:
    ax.axhline(v, color='#c0c0c0', lw=1.5 if v % 10 == 0 else 0.8, zorder=1)
ax.axhline(0.2, color='#a8a8a8', lw=1.5, zorder=1)
for s in day_steps:
    ax.axvline(s, color='#c0c0c0', lw=0.8, zorder=1)

pk = dict(lw=0.7, marker='+', ms=2.5, mew=0.6, zorder=3)
for k in range(30):
    c = member_colors[k]
    ax.plot(steps, t850[k], color=c, **pk)
    ax.plot(steps, t500[k], color=c, **pk)
    ax.plot(steps[1:], precip_series(precip_perts[k]), color=c, **pk)

tk = dict(lw=1.9, marker='o', ms=1.8, zorder=5)
ax.plot(steps, t850_gfs, color='black', **tk)
ax.plot(steps, t500_gfs, color='black', **tk)
ax.plot(steps[1:], precip_series(precip_gfs), color='black', **tk)
ax.plot(steps, t850_ctrl, color='#0000ff', **tk)
ax.plot(steps, t500_ctrl, color='#0000ff', **tk)
ax.plot(steps[1:], precip_series(precip_ctrl), color='#0000ff', **tk)

mk = dict(color='#ff0000', lw=3.2, zorder=6, solid_capstyle='butt')
ax.plot(steps, t850_mean, **mk)
ax.plot(steps, t500_mean, **mk)
ax.plot(steps[1:], np.array(precip_mean) + PR0, **mk)

# axes frame and tick labels
for side in ('left', 'right', 'bottom'):
    ax.spines[side].set_linewidth(1.1)
    ax.spines[side].set_zorder(7)
ax.spines['top'].set_visible(False)
ax.set_xticks([])
ax.set_yticks(left_ticks)
ax.set_yticklabels([str(v) for v in left_ticks])
ax.tick_params(axis='y', length=0, pad=21.6, labelsize=7)
for lab in ax.get_yticklabels():
    lab.set_horizontalalignment('left')

ax2 = ax.twinx()
ax2.set_ylim(ax.get_ylim())
ax2.set_yticks(right_pos)
ax2.set_yticklabels(right_lab)
ax2.tick_params(axis='y', length=0, pad=14.4, labelsize=7)
for side in ('left', 'right', 'bottom', 'top'):
    ax2.spines[side].set_visible(False)

fs = 7
ax.text(10 / 640, 1 - 49 / 600, "Temp. 850hPa", transform=ax.transAxes, fontsize=fs, va='center')
ax.text(10 / 640, 1 - 269 / 600, "Temp. 500hPa", transform=ax.transAxes, fontsize=fs, va='center')
ax.text(10 / 640, 1 - 480 / 600, "Précipitations", transform=ax.transAxes, fontsize=fs, va='center')

# date labels
for k, d in enumerate(days):
    fig.text(*fpx(50 + 10 * day_steps[k] + 7, 602), d, rotation=90, ha='center', va='top', fontsize=fs)

fig.text(*fpx(20, 607), "(°C)", fontsize=fs, va='center')
fig.text(*fpx(710, 607), "(mm)", fontsize=fs, va='center')
fig.text(*fpx(9, 623), "Alt. 400m", fontsize=fs, va='center')

# legend
fig.add_artist(Line2D([35 / W, 66 / W], [1 - 637 / H] * 2, color='#ff0000', lw=2.9))
fig.text(*fpx(75, 637), "Moyenne des scénarios", fontsize=fs, va='center')
fig.add_artist(Line2D([225 / W, 255 / W], [1 - 637 / H] * 2, color='#0000ff', lw=2.9))
fig.text(*fpx(264, 637), "Run de contrôle", fontsize=fs, va='center')
fig.add_artist(Line2D([225 / W, 255 / W], [1 - 647 / H] * 2, color='black', lw=2.9))
fig.text(*fpx(264, 647), "Run GFS", fontsize=fs, va='center')
fig.text(*fpx(60, 658), "❄", fontsize=9, color='#7ab8ea', ha='center', va='center', family='DejaVu Sans')
fig.text(*fpx(75, 660), "Risque neige", fontsize=fs, va='center')
fig.text(*fpx(393, 652), "30 Perts.", fontsize=fs, va='center', ha='right')
for k in range(30):
    fig.add_artist(Rectangle(fpx(400 + 11 * k, 656), 10 / W, 6 / H, transform=fig.transFigure,
                             facecolor=member_colors[k], edgecolor='none'))
    fig.text(*fpx(405 + 11 * k, 643), "%02d" % (k + 1), fontsize=5, fontweight='bold',
             ha='center', va='center')

# title block
fig.add_artist(Rectangle(fpx(20, 699), 423 / W, 32 / H, transform=fig.transFigure,
                         fill=False, edgecolor='black', lw=1))
fig.text(*fpx(30, 677), "Diagramme des ensembles GEFS sur 384h : 40N 0.3W", fontsize=8.4,
         fontweight='bold', va='center')
fig.text(*fpx(30, 692), "Températures 850hPa et 500hPa (°C) , précipitations (mm)", fontsize=7,
         va='center')
fig.text(*fpx(450, 676), "Ensemble GEFS du 23/08/2026 - 12Z", fontsize=7, va='center')
fig.text(*fpx(450, 692), "Copyright 2026 Meteociel.fr", fontsize=8.3, fontweight='bold', va='center')

fig.savefig('out.png', dpi=100)
